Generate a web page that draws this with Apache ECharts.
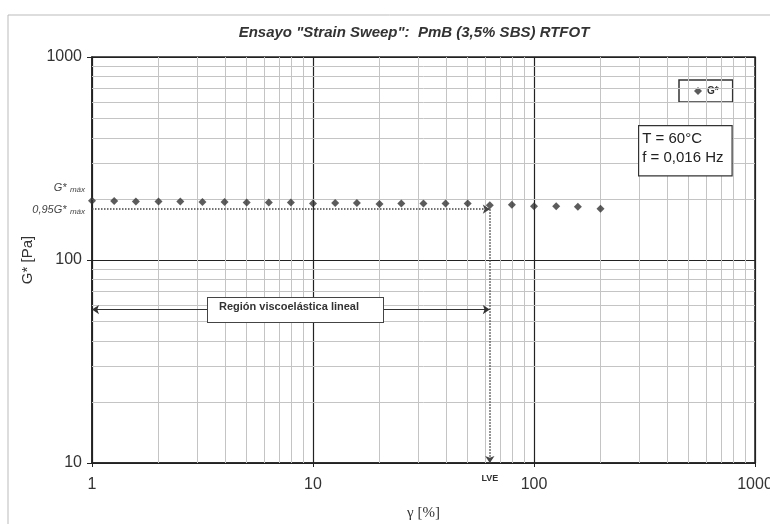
<!DOCTYPE html>
<html>
<head>
<meta charset="utf-8">
<script src="https://cdn.jsdelivr.net/npm/echarts@6/dist/echarts.min.js"></script>
<style>
  html, body { margin: 0; padding: 0; background: #fff; }
  #chart { width: 770px; height: 524px; }
</style>
</head>
<body>
<div id="chart"></div>
<script>
// deformación (%) - barrido de amplitud
const strain = [1, 1.26, 1.58, 2, 2.51, 3.16, 3.98, 5.01, 6.31, 7.94,
  10, 12.6, 15.8, 20, 25.1, 31.6, 39.8, 50.1, 63.1, 79.4, 100, 126, 158, 200];
// G* (Pa)
const gStar = [196, 195, 194, 194, 194, 193, 193, 192, 192, 192,
  190, 191, 191, 189, 190, 190, 190, 190, 186, 187, 184, 184, 183, 179];

const xMinor = [2, 3, 4, 5, 6, 7, 8, 9, 20, 30, 40, 50, 60, 70, 80, 90, 200, 300, 400, 500, 600, 700, 800, 900];
const yMinor = [20, 30, 40, 50, 60, 70, 80, 90, 200, 300, 400, 500, 600, 700, 800, 900];

const gMax95 = 178;   // 0,95 G* max
const lve = 63.1;     // límite región viscoelástica lineal
const regionY = 57;   // altura de la flecha "Región viscoelástica lineal"

const myChart = echarts.init(document.getElementById("chart"));

const minorLines = []
  .concat(xMinor.map(v => ({ xAxis: v })))
  .concat(yMinor.map(v => ({ yAxis: v })));

const option = {
  backgroundColor: "#fff",
  animation: false,
  textStyle: { fontFamily: "Liberation Sans" },
  title: {
    text: 'Ensayo "Strain Sweep":  PmB (3,5% SBS) RTFOT',
    left: 409,
    top: 20,
    textAlign: "center",
    textStyle: { fontSize: 15, fontStyle: "italic", fontWeight: "bold", color: "#333", fontFamily: "Liberation Sans" }
  },
  grid: {
    left: 92,
    right: 15,
    top: 57,
    bottom: 61,
    outerBoundsMode: "none",
    show: true,
    borderColor: "#222",
    borderWidth: 1.5
  },
  legend: {
    data: ["G*"],
    left: 679,
    top: 80,
    borderColor: "#333",
    borderWidth: 1.5,
    padding: [6, 14, 6, 15],
    itemWidth: 8,
    itemHeight: 8,
    textStyle: { fontSize: 10, fontWeight: "bold", color: "#333" }
  },
  xAxis: {
    type: "log",
    logBase: 10,
    min: 1,
    max: 1000,
    name: "γ [%]",
    nameLocation: "middle",
    nameGap: 43,
    nameTextStyle: { fontSize: 15, color: "#333", fontFamily: "Liberation Serif" },
    axisLine: { show: true, lineStyle: { color: "#222", width: 1.5 } },
    axisTick: { show: true, length: 4, lineStyle: { color: "#222" } },
    axisLabel: { fontSize: 16, color: "#333", margin: 14, formatter: v => String(v) },
    splitLine: { show: true, lineStyle: { color: "#222", width: 1.2 } }
  },
  yAxis: {
    type: "log",
    logBase: 10,
    min: 10,
    max: 1000,
    name: "G* [Pa]",
    nameLocation: "middle",
    nameGap: 52,
    nameTextStyle: { fontSize: 15, color: "#333" },
    axisLine: { show: true, lineStyle: { color: "#222", width: 1.5 } },
    axisTick: { show: true, length: 5, lineStyle: { color: "#222" } },
    axisLabel: { fontSize: 16, color: "#333", margin: 10, formatter: v => String(v) },
    splitLine: { show: true, lineStyle: { color: "#222", width: 1.2 } }
  },
  series: [
    {
      // rejilla secundaria (2..9 de cada década)
      name: "minor",
      type: "line",
      data: [],
      silent: true,
      z: 1,
      markLine: {
        silent: true,
        symbol: "none",
        label: { show: false },
        lineStyle: { color: "#c4c4c4", width: 1, type: "solid" },
        data: minorLines
      }
    },
    {
      name: "G*",
      type: "scatter",
      symbol: "diamond",
      symbolSize: 8,
      itemStyle: { color: "#333" },
      z: 5,
      data: strain.map((x, i) => [x, gStar[i]])
    },
    {
      // anotaciones
      name: "notes",
      type: "line",
      data: [],
      z: 4,
      markLine: {
        silent: true,
        symbolSize: 7,
        data: [
          [
            { coord: [1, gMax95], symbol: "none", lineStyle: { type: "dotted", color: "#444", width: 1.5 } },
            { coord: [lve, gMax95], symbol: "arrow" }
          ],
          [
            { coord: [lve, gMax95], symbol: "none", lineStyle: { type: "dotted", color: "#444", width: 1.5 },
              label: { show: true, position: "end", formatter: "LVE", fontSize: 9, fontWeight: "bold", color: "#333", distance: 11 } },
            { coord: [lve, 10], symbol: "arrow" }
          ],
          [
            { coord: [1, regionY], symbol: "arrow", lineStyle: { type: "solid", color: "#333", width: 1 } },
            { coord: [lve, regionY], symbol: "arrow" }
          ]
        ],
        label: { show: false }
      }
    }
  ],
  graphic: [
    {
      type: "rect",
      shape: { x: 8, y: 15, width: 800, height: 560 },
      style: { fill: "none", stroke: "#bbb", lineWidth: 1 },
      silent: true,
      z: -1
    },
    {
      type: "text",
      left: 638,
      top: 125,
      z: 10,
      style: {
        text: "T = 60°C\nf = 0,016 Hz",
        font: "15px Liberation Sans",
        fill: "#222",
        backgroundColor: "#fff",
        borderColor: "#333",
        borderWidth: 1.2,
        padding: [3, 8, 8, 3],
        lineHeight: 19
      }
    },
    {
      type: "text",
      left: 207,
      top: 297,
      z: 10,
      style: {
        text: "Región viscoelástica lineal",
        font: "bold 11px Liberation Sans",
        fill: "#333",
        backgroundColor: "#fff",
        borderColor: "#444",
        borderWidth: 1,
        padding: [3, 10, 10, 11],
        width: 154
      }
    },
    {
      type: "text",
      right: 685,
      top: 182,
      style: {
        text: "{a|G*} {b|máx}",
        rich: {
          a: { font: "italic 11px Liberation Sans", fill: "#444" },
          b: { font: "italic 8px Liberation Sans", fill: "#444", padding: [3, 0, 0, 0] }
        }
      }
    },
    {
      type: "text",
      right: 685,
      top: 204,
      style: {
        text: "{a|0,95G*} {b|máx}",
        rich: {
          a: { font: "italic 11px Liberation Sans", fill: "#444" },
          b: { font: "italic 8px Liberation Sans", fill: "#444", padding: [3, 0, 0, 0] }
        }
      }
    }
  ]
};

myChart.setOption(option);
</script>
</body>
</html>
